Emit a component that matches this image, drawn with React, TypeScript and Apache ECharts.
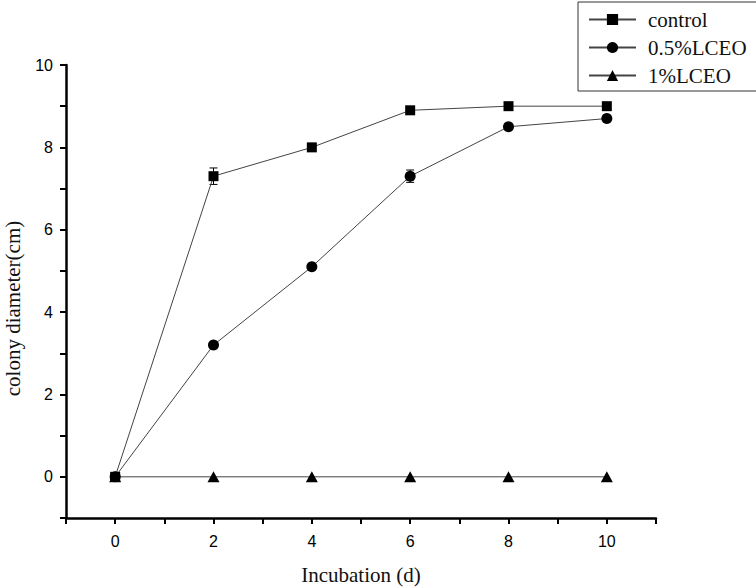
import React, { useEffect, useRef } from "react";
import * as echarts from "echarts";

const days = [0, 2, 4, 6, 8, 10];
const seriesNames = ["control", "0.5%LCEO", "1%LCEO"];
const control = [0, 7.3, 8.0, 8.9, 9.0, 9.0];
const lceo05 = [0, 3.2, 5.1, 7.3, 8.5, 8.7];
const lceo1 = [0, 0, 0, 0, 0, 0];
const controlErr = [0, 0.2, 0, 0, 0, 0];
const lceo05Err = [0, 0, 0, 0.15, 0, 0];
const xTicks = [0, 2, 4, 6, 8, 10];
const yTicks = [0, 2, 4, 6, 8, 10];

export default function App() {
  const ref = useRef<HTMLDivElement>(null);
  useEffect(() => {
    if (!ref.current) return;
    const chart = echarts.init(ref.current, undefined, { renderer: "svg" });
    const errData: number[][] = [];
    [
      [control, controlErr],
      [lceo05, lceo05Err],
    ].forEach(([vals, errs]) => {
      days.forEach((d, i) => {
        if (errs[i] > 0) errData.push([d, vals[i] - errs[i], vals[i] + errs[i]]);
      });
    });
    const lineStyle = { color: "#444", width: 1 };
    const itemStyle = { color: "#000" };
    const serif = "Liberation Serif, Times New Roman, serif";
    const axisFont = { fontFamily: "Liberation Sans, Arial, sans-serif", fontSize: 16, color: "#000" };
    chart.setOption({
      animation: false,
      backgroundColor: "#fff",
      grid: { left: 66, right: 100, top: 65, bottom: 70, containLabel: false, outerBoundsMode: "none" },
      legend: {
        data: seriesNames,
        orient: "vertical",
        left: 578,
        top: 2,
        padding: [7, 14, 5, 10],
        itemGap: 7,
        itemWidth: 47,
        itemHeight: 14,
        borderColor: "#333",
        borderWidth: 1,
        textStyle: {
          fontFamily: serif,
          fontSize: 21,
          color: "#111",
          padding: [0, 0, 0, 7],
          lineHeight: 21,
        },
      },
      xAxis: {
        type: "value",
        min: -1,
        max: 11,
        interval: 1,
        name: "Incubation (d)",
        nameLocation: "middle",
        nameGap: 46,
        nameTextStyle: { fontFamily: serif, fontSize: 21, color: "#111" },
        axisLine: { show: true, onZero: false, lineStyle: { color: "#000", width: 2.5 } },
        axisTick: { show: true, inside: false, length: 6, lineStyle: { color: "#000", width: 2 } },
        axisLabel: {
          ...axisFont,
          margin: 15,
          formatter: (v: number) => (xTicks.includes(v) ? String(v) : ""),
        },
        splitLine: { show: false },
      },
      yAxis: {
        type: "value",
        min: -1,
        max: 10,
        interval: 1,
        name: "colony diameter(cm)",
        nameLocation: "middle",
        nameGap: 43,
        nameTextStyle: { fontFamily: serif, fontSize: 21, color: "#111", padding: [0, 34, 0, 0] },
        axisLine: { show: true, onZero: false, lineStyle: { color: "#000", width: 2.5 } },
        axisTick: { show: true, inside: false, length: 6, lineStyle: { color: "#000", width: 2 } },
        axisLabel: {
          ...axisFont,
          margin: 13,
          formatter: (v: number) => (yTicks.includes(v) ? String(v) : ""),
        },
        splitLine: { show: false },
      },
      series: [
        {
          name: "errors",
          type: "custom",
          data: errData,
          z: 1,
          renderItem: (params: any, api: any) => {
            const x = api.value(0);
            const top = api.coord([x, api.value(2)]);
            const bot = api.coord([x, api.value(1)]);
            const w = 4;
            const st = { stroke: "#000", lineWidth: 1 };
            return {
              type: "group",
              children: [
                { type: "line", shape: { x1: top[0], y1: top[1], x2: bot[0], y2: bot[1] }, style: st },
                { type: "line", shape: { x1: top[0] - w, y1: top[1], x2: top[0] + w, y2: top[1] }, style: st },
                { type: "line", shape: { x1: bot[0] - w, y1: bot[1], x2: bot[0] + w, y2: bot[1] }, style: st },
              ],
            };
          },
        },
        {
          name: seriesNames[0],
          type: "line",
          data: days.map((d, i) => [d, control[i]]),
          symbol: "rect",
          symbolSize: 10,
          lineStyle,
          itemStyle,
          z: 3,
        },
        {
          name: seriesNames[1],
          type: "line",
          data: days.map((d, i) => [d, lceo05[i]]),
          symbol: "circle",
          symbolSize: 11,
          lineStyle,
          itemStyle,
          z: 3,
        },
        {
          name: seriesNames[2],
          type: "line",
          data: days.map((d, i) => [d, lceo1[i]]),
          symbol: "triangle",
          symbolSize: [12, 11],
          lineStyle,
          itemStyle,
          z: 3,
        },
      ],
    });
    return () => chart.dispose();
  }, []);
  return <div ref={ref} style={{ width: 756, height: 588, position: "absolute", left: 0, top: 0 }} />;
}
